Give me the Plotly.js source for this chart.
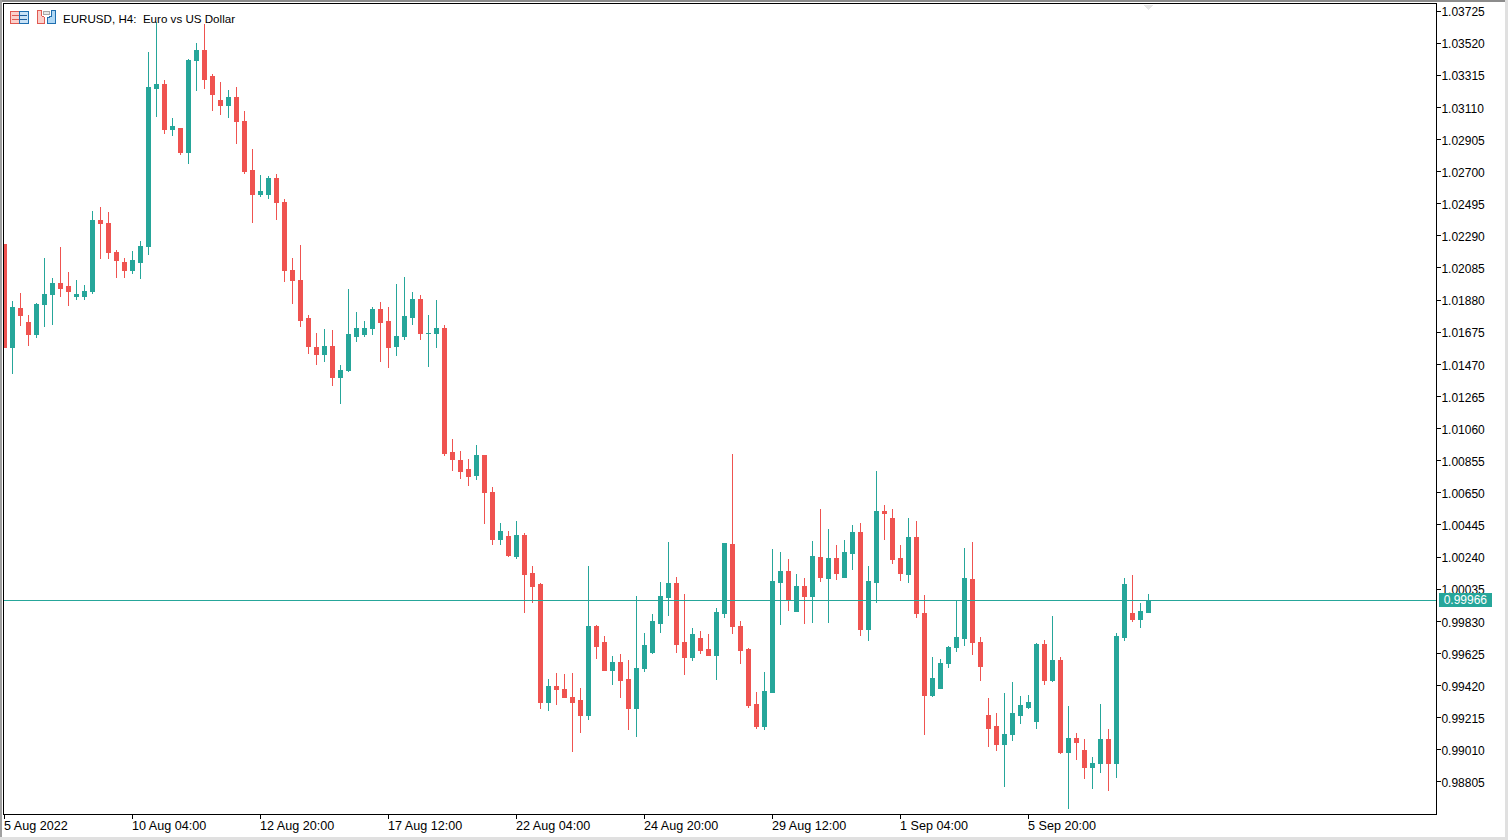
<!DOCTYPE html>
<html>
<head>
<meta charset="utf-8">
<script src="https://cdn.plot.ly/plotly-3.0.1.min.js"></script>
<style>
html,body{margin:0;padding:0;background:#fff;overflow:hidden}
#chart{width:1508px;height:840px}
.boxlayer{transform:translate(0.5px,0)}
.boxlayer path{shape-rendering:crispEdges}
.layer-above .shapelayer path,.layer-below .shapelayer path,.shapelayer path{shape-rendering:crispEdges}
</style>
</head>
<body>
<div id="chart"></div>
<script>
const open_ = [1.02238,1.01575,1.01824,1.01734,1.01658,1.01849,1.01913,1.01989,1.01964,1.01906,
1.01906,1.01932,1.02391,1.02372,1.02187,1.02123,1.02072,1.02123,1.02219,1.03233,
1.03253,1.02972,1.02978,1.02825,1.03406,1.03470,1.03304,1.03157,1.03125,1.03176,
1.03023,1.02704,1.02557,1.02551,1.02659,1.02506,1.02072,1.02008,1.01760,1.01575,
1.01530,1.01587,1.01383,1.01428,1.01651,1.01658,1.01696,1.01817,1.01741,1.01581,
1.01645,1.01766,1.01881,1.01664,1.01664,1.01702,1.00905,1.00854,1.00796,1.00758,
1.00886,1.00650,1.00355,1.00374,1.00247,1.00381,1.00138,1.00062,0.99315,0.99417,
0.99398,0.99347,0.99322,0.99232,0.99794,0.99692,0.99519,0.99570,0.99462,0.99277,
0.99526,0.99634,0.99819,0.99985,1.00074,0.99692,0.99602,0.99723,0.99653,0.99615,
0.99883,1.00323,0.99800,0.99653,0.99302,0.99156,0.99379,1.00081,1.00145,0.99896,
1.00055,0.99991,1.00240,1.00106,1.00234,1.00113,1.00266,1.00400,0.99781,1.00081,
1.00534,1.00489,1.00234,1.00132,1.00368,0.99883,0.99360,0.99404,0.99558,0.99660,
0.99723,1.00100,0.99698,0.99226,0.99156,0.99047,0.99105,0.99232,0.99283,0.99194,
0.99685,0.99455,0.99583,0.98996,0.99085,0.99009,0.98900,0.98920,0.99073,0.98920,
0.99730,0.99877,0.99845,0.99889];
const high = [1.02238,1.01875,1.01926,1.01785,1.01862,1.02149,1.02021,1.02219,1.02060,1.02008,
1.01977,1.02449,1.02474,1.02442,1.02200,1.02149,1.02194,1.02257,1.03463,1.03655,
1.03284,1.03042,1.02978,1.03418,1.03521,1.03642,1.03323,1.03272,1.03221,1.03240,
1.03087,1.02844,1.02678,1.02672,1.02685,1.02525,1.02149,1.02232,1.01785,1.01670,
1.01696,1.01690,1.01466,1.01951,1.01804,1.01747,1.01836,1.01868,1.01836,1.01983,
1.02028,1.01932,1.01913,1.01785,1.01881,1.01721,1.00994,1.00918,1.00866,1.00956,
1.00892,1.00688,1.00457,1.00406,1.00470,1.00393,1.00183,1.00074,0.99462,0.99500,
0.99494,0.99500,0.99404,1.00183,0.99806,0.99736,0.99609,0.99621,0.99583,0.99991,
0.99755,0.99877,1.00081,1.00336,1.00113,1.00004,0.99787,0.99768,0.99749,0.99915,
1.00330,1.00898,0.99832,0.99660,0.99379,0.99507,1.00291,1.00272,1.00227,1.00132,
1.00106,1.00342,1.00547,1.00419,1.00317,1.00349,1.00444,1.00457,1.00183,1.00790,
1.00572,1.00547,1.00317,1.00489,1.00470,0.99998,0.99602,0.99589,0.99672,0.99966,
1.00298,1.00336,0.99730,0.99341,0.99245,0.99373,0.99443,0.99353,0.99360,0.99692,
0.99711,0.99864,0.99602,0.99290,0.99117,0.99079,0.98964,0.99302,0.99143,0.99755,
1.00106,1.00125,0.99947,1.00004];
const low = [1.01575,1.01409,1.01715,1.01587,1.01638,1.01709,1.01721,1.01900,1.01843,1.01881,
1.01881,1.01919,1.02142,1.02142,1.02021,1.02021,1.02047,1.02015,1.02168,1.03049,
1.02940,1.02927,1.02806,1.02749,1.03214,1.03227,1.03087,1.03061,1.03042,1.02876,
1.02685,1.02372,1.02538,1.02525,1.02391,1.01996,1.01855,1.01709,1.01536,1.01466,
1.01485,1.01332,1.01217,1.01422,1.01613,1.01645,1.01658,1.01485,1.01447,1.01524,
1.01626,1.01721,1.01626,1.01453,1.01575,1.00886,1.00790,1.00739,1.00694,1.00732,
1.00451,1.00317,1.00317,1.00240,1.00227,0.99883,0.99947,0.99271,0.99258,0.99296,
0.99341,0.98996,0.99117,0.99200,0.99589,0.99513,0.99424,0.99341,0.99137,0.99092,
0.99507,0.99621,0.99755,0.99864,0.99628,0.99487,0.99577,0.99621,0.99615,0.99455,
0.99851,0.99749,0.99558,0.99277,0.99143,0.99137,0.99373,0.99806,0.99896,0.99896,
0.99813,0.99819,1.00081,0.99819,1.00093,1.00113,1.00157,0.99736,0.99704,0.99947,
1.00349,1.00196,1.00087,1.00074,0.99851,0.99105,0.99347,0.99398,0.99532,0.99634,
0.99672,0.99615,0.99449,0.99028,0.99003,0.98773,0.99066,0.99175,0.99271,0.99143,
0.99424,0.99443,0.98983,0.98633,0.98945,0.98824,0.98760,0.98862,0.98747,0.98830,
0.99704,0.99826,0.99787,0.99889];
const close_ = [1.01575,1.01830,1.01779,1.01658,1.01855,1.01919,1.01989,1.01957,1.01932,1.01913,
1.01938,1.02391,1.02366,1.02181,1.02130,1.02072,1.02130,1.02225,1.03240,1.03253,
1.02966,1.02985,1.02825,1.03412,1.03470,1.03291,1.03189,1.03125,1.03176,1.03017,
1.02698,1.02557,1.02576,1.02659,1.02500,1.02066,1.02002,1.01753,1.01587,1.01530,
1.01587,1.01383,1.01434,1.01658,1.01702,1.01702,1.01817,1.01734,1.01575,1.01651,
1.01773,1.01881,1.01664,1.01670,1.01702,1.00898,1.00860,1.00784,1.00752,1.00886,
1.00650,1.00355,1.00406,1.00253,1.00381,1.00132,1.00055,0.99315,0.99417,0.99392,
0.99341,0.99315,0.99232,0.99794,0.99672,0.99519,0.99570,0.99455,0.99277,0.99532,
0.99679,0.99826,0.99991,1.00074,0.99685,0.99602,0.99743,0.99647,0.99615,0.99889,
1.00330,0.99794,0.99641,0.99296,0.99156,0.99385,1.00087,1.00145,0.99972,1.00055,
0.99991,1.00247,1.00113,1.00234,1.00138,1.00272,1.00400,0.99781,1.00087,1.00534,
1.00521,1.00227,1.00138,1.00368,0.99877,0.99360,0.99468,0.99564,0.99666,0.99730,
1.00106,0.99692,0.99545,0.99149,0.99047,0.99111,0.99239,0.99290,0.99315,0.99685,
0.99455,0.99583,0.98996,0.99085,0.99060,0.98900,0.98926,0.99073,0.98920,0.99736,
1.00062,0.99845,0.99896,0.99966];

const priceTicks = [1.03725,1.03520,1.03315,1.03110,1.02905,1.02700,1.02495,1.02290,1.02085,1.01880,1.01675,1.01470,1.01265,1.01060,1.00855,1.00650,1.00445,1.00240,1.00035,0.99830,0.99625,0.99420,0.99215,0.99010,0.98805];
const timeTickIndex = [0,16,32,48,64,80,96,112,128];
const timeTickLabels = ['5 Aug 2022','10 Aug 04:00','12 Aug 20:00','17 Aug 12:00','22 Aug 04:00','24 Aug 20:00','29 Aug 12:00','1 Sep 04:00','5 Sep 20:00'];
const lastPrice = 0.99966;
const titleText = 'EURUSD, H4:\u00A0\u00A0Euro vs US Dollar';

const GREEN = '#26a69a', RED = '#ef5350';
const FONT = '"Liberation Sans", Arial, sans-serif';
const L = 4, R = 1436, T = 4, B = 814;
const px = x => (x - L) / (R - L), py = y => (B - y) / (B - T);
const box = (x0, y0, x1, y1, line, fill, w) => ({type:'rect', xref:'paper', yref:'paper', layer:'above',
  x0:px(x0), x1:px(x1), y0:py(y0), y1:py(y1), line:{color:line, width:w===undefined?1:w}, fillcolor:fill});
const seg = (x0, y0, x1, y1, c) => ({type:'line', xref:'paper', yref:'paper', layer:'above',
  x0:px(x0), x1:px(x1), y0:py(y0), y1:py(y1), line:{color:c, width:1}});

const shapes = [
  {type:'line', xref:'paper', yref:'y', x0:0, x1:1, y0:lastPrice, y1:lastPrice, line:{color:GREEN, width:1}},
  // window frame
  box(-4, 0, 1512, 2, '#8c8c8c', '#8c8c8c', 0),
  box(0, 0, 2, 840, '#a0a0a0', '#a0a0a0', 0),
  box(1505, 0, 1508, 840, '#e0e0e0', '#e0e0e0', 0),
  box(0, 837, 1508, 840, '#e0e0e0', '#e0e0e0', 0),
  // chart icons
  box(10.5, 11.5, 19.5, 23.5, '#e05a52', '#fbd0cb'),
  box(19.5, 11.5, 28.5, 23.5, '#1f6fb0', '#c9e2f6'),
  seg(12, 15.5, 19, 15.5, '#e05a52'), seg(12, 19.5, 19, 19.5, '#e05a52'),
  seg(20, 15.5, 27, 15.5, '#1f5f9c'), seg(20, 19.5, 27, 19.5, '#1f5f9c'),
  {type:'path', xref:'paper', yref:'paper', layer:'above',
   path:`M ${px(37.5)} ${py(23.5)} L ${px(37.5)} ${py(10.5)} L ${px(41.5)} ${py(10.5)} L ${px(41.5)} ${py(15.5)} L ${px(44.5)} ${py(17.5)} L ${px(44.5)} ${py(23.5)} Z`,
   line:{color:'#e05a52', width:1}, fillcolor:'#fbd0cb'},
  {type:'path', xref:'paper', yref:'paper', layer:'above',
   path:`M ${px(47.5)} ${py(23.5)} L ${px(47.5)} ${py(17.5)} L ${px(51.5)} ${py(16.5)} L ${px(51.5)} ${py(10.5)} L ${px(55.5)} ${py(10.5)} L ${px(55.5)} ${py(23.5)} Z`,
   line:{color:'#1f6fb0', width:1}, fillcolor:'#b0d8f5'},
  box(43.5, 11.5, 49.5, 14.5, '#a8a8a8', '#e8e8e8'),
  // current-time marker
  {type:'path', xref:'paper', yref:'paper', layer:'above',
   path:`M ${px(1144)} ${py(5)} L ${px(1153)} ${py(5)} L ${px(1148.5)} ${py(10)} Z`,
   line:{width:0}, fillcolor:'#e6e6e6'}
];

const N = open_.length;
Plotly.newPlot('chart', [{
  type:'candlestick',
  x:Array.from({length:N}, (_, i) => i),
  open:open_, high:high, low:low, close:close_,
  increasing:{line:{color:GREEN, width:1}, fillcolor:GREEN},
  decreasing:{line:{color:RED, width:1}, fillcolor:RED},
  whiskerwidth:0,
  showlegend:false
}], {
  width:1508, height:840,
  margin:{l:L, r:1508-R, t:T, b:840-B, pad:0},
  paper_bgcolor:'#fff', plot_bgcolor:'#fff',
  boxgap:0.2857,
  showlegend:false,
  title:{text:titleText, x:63/1508, xanchor:'left', xref:'container', y:1-19/840, yanchor:'middle', yref:'container',
         font:{family:FONT, size:11.6, color:'#000'}, pad:{t:0,b:0,l:0,r:0}},
  font:{family:FONT, size:12, color:'#000'},
  xaxis:{
    type:'linear', range:[0, 179], rangeslider:{visible:false},
    tickmode:'array', tickvals:timeTickIndex, ticktext:timeTickLabels,
    ticks:'outside', ticklen:4, tickwidth:1, tickcolor:'#000', ticklabelposition:'outside right',
    ticklabelshift:-1, ticklabelstandoff:0,
    showgrid:false, zeroline:false, showline:true, linecolor:'#000', linewidth:1, mirror:true,
    tickfont:{family:FONT, size:12.6, color:'#000'}, fixedrange:true
  },
  yaxis:{
    side:'right', type:'linear', range:[1.03725-(B-11)/15670, 1.03725+7/15670],
    tickmode:'array', tickvals:priceTicks, ticktext:priceTicks.map(v => v.toFixed(5)),
    ticks:'outside', ticklen:4, tickwidth:1, tickcolor:'#000',
    ticklabelshift:1, ticklabelstandoff:-2,
    showgrid:false, zeroline:false, showline:true, linecolor:'#000', linewidth:1, mirror:true,
    tickfont:{family:FONT, size:12, color:'#000'}, fixedrange:true
  },
  shapes:shapes,
  annotations:[{
    xref:'paper', yref:'y', x:px(1439), y:lastPrice, xanchor:'left', yanchor:'middle', showarrow:false,
    text:lastPrice.toFixed(5), width:53, height:14, bgcolor:GREEN, borderpad:0, borderwidth:0,
    font:{family:FONT, size:12, color:'#fff'}, align:'center'
  }]
}, {displayModeBar:false, staticPlot:true});
</script>
</body>
</html>
